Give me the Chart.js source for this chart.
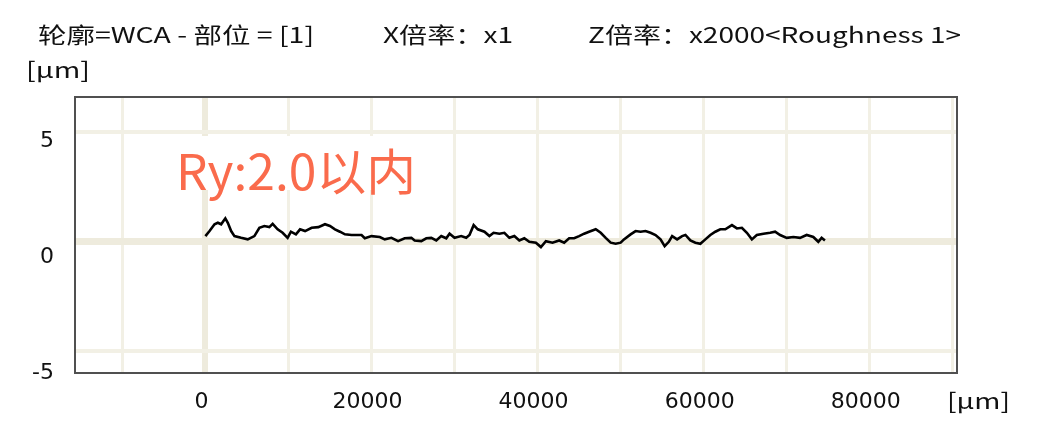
<!DOCTYPE html>
<html lang="zh">
<head>
<meta charset="utf-8">
<title>轮廓 WCA</title>
<script src="https://cdn.jsdelivr.net/npm/chart.js@4.4.0/dist/chart.umd.min.js"></script>
<style>
  html, body { margin: 0; padding: 0; background: #fff; }
  #caixa { position: relative; width: 1037px; height: 428px; }
</style>
</head>
<body>
<div id="caixa"><canvas id="grafico"></canvas></div>
<script>
// posição ao longo do perfil [µm]
const posicoes = [
  0, 500, 1100, 1500, 1900, 2400, 2700, 3100, 3500, 4300,
  5100, 5900, 6500, 7100, 7700, 8100, 8700, 9300, 9900, 10300,
  10900, 11400, 12000, 12800, 13600, 14400, 15000, 15600, 16200, 16800,
  17600, 18800, 19200, 20000, 21000, 21600, 22400, 23200, 24000, 24800,
  25200, 26000, 26600, 27200, 27800, 28400, 29000, 29400, 30000, 30800,
  31400, 31800, 32300, 32800, 33600, 34200, 34700, 35400, 36000, 36600,
  37200, 37800, 38400, 39000, 39800, 40400, 41000, 41800, 42600, 43200,
  43800, 44400, 45000, 45600, 46200, 47000, 47600, 48200, 48800, 49400,
  50000, 50400, 51200, 51800, 52400, 53000, 53600, 54200, 54800, 55300,
  55800, 56200, 56800, 57400, 57800, 58400, 59000, 59600, 60200, 60800,
  61400, 62000, 62600, 63400, 64000, 64600, 65200, 65800, 66400, 67200,
  68000, 68600, 69200, 70000, 70800, 71600, 72400, 73200, 73800, 74200,
  74600
];
// altura do perfil [µm]
const alturas = [
  0.25, 0.48, 0.79, 0.86, 0.79, 1.06, 0.86, 0.48, 0.25, 0.17,
  0.10, 0.25, 0.63, 0.71, 0.66, 0.81, 0.56, 0.40, 0.17, 0.45,
  0.33, 0.56, 0.48, 0.63, 0.66, 0.79, 0.71, 0.56, 0.45, 0.33,
  0.30, 0.30, 0.15, 0.25, 0.21, 0.10, 0.17, 0.02, 0.15, 0.17,
  0.05, 0.02, 0.15, 0.17, 0.05, 0.25, 0.15, 0.36, 0.17, 0.25,
  0.17, 0.30, 0.75, 0.56, 0.45, 0.25, 0.40, 0.36, 0.40, 0.17,
  0.25, 0.05, 0.15, -0.01, -0.05, -0.25, 0.02, -0.05, 0.05, -0.05,
  0.15, 0.15, 0.25, 0.36, 0.45, 0.56, 0.40, 0.17, -0.05, -0.10,
  -0.05, 0.10, 0.33, 0.48, 0.45, 0.48, 0.40, 0.30, 0.10, -0.21,
  -0.01, 0.25, 0.10, 0.25, 0.30, 0.05, -0.05, -0.10, 0.10, 0.30,
  0.45, 0.56, 0.56, 0.75, 0.60, 0.63, 0.40, 0.10, 0.30, 0.36,
  0.40, 0.45, 0.30, 0.17, 0.21, 0.17, 0.30, 0.21, -0.01, 0.17,
  0.05
];

// linhas da grade e rótulos dos eixos
const gradeX = [-10000, 0, 10000, 20000, 30000, 40000, 50000, 60000, 70000, 80000, 90000];
const rotulosX = [0, 20000, 40000, 60000, 80000];
const gradeY = [-5, 0, 5];

const corGrade = "rgb(242, 240, 229)";     // linhas finas
const corGradeZero = "rgb(238, 235, 221)"; // linhas do zero (mais grossas)

// desenha um texto esticado na horizontal até a largura pedida
function textoEsticado(ctx, texto, x, y, largura) {
  const w = ctx.measureText(texto).width;
  ctx.save();
  ctx.translate(x, y);
  ctx.scale(largura / w, 1);
  ctx.fillText(texto, 0, 0);
  ctx.restore();
}

// textos fixos: cabeçalho, unidades e a anotação Ry
const textos = {
  id: "textos",
  beforeDatasetsDraw(chart) {
    const ctx = chart.ctx;
    // caixa branca atrás da anotação (cobre a grade)
    ctx.save();
    ctx.fillStyle = "#fff";
    ctx.fillRect(126, 136, 322, 54);
    ctx.fillStyle = "#fa6b4c";
    ctx.font = "49px 'Noto Sans CJK SC'";
    ctx.textBaseline = "alphabetic";
    textoEsticado(ctx, "Ry:2.0以内", 176, 190, 240);
    ctx.restore();
  },
  afterDraw(chart) {
    const ctx = chart.ctx;
    const a = chart.chartArea;
    ctx.save();
    // moldura do gráfico
    ctx.strokeStyle = "#505050";
    ctx.lineWidth = 2;
    ctx.strokeRect(a.left, a.top, a.right - a.left, a.bottom - a.top);

    ctx.fillStyle = "#111";
    ctx.textBaseline = "alphabetic";
    ctx.font = "22px 'Noto Sans CJK SC'";
    textoEsticado(ctx, "轮廓=WCA - 部位 = [1]", 38, 43, 276);
    textoEsticado(ctx, "X倍率：x1", 383, 43, 130);
    textoEsticado(ctx, "Z倍率：x2000<Roughness 1>", 588, 43, 373);
    textoEsticado(ctx, "[μm]", 26, 78, 64);
    textoEsticado(ctx, "[μm]", 947, 409, 63);
    ctx.restore();
  }
};

const perfil = posicoes.map((x, i) => ({ x: x, y: alturas[i] }));

new Chart(document.getElementById("grafico"), {
  type: "line",
  data: {
    datasets: [{
      data: perfil,
      borderColor: "#000",
      borderWidth: 2.6,
      pointRadius: 0,
      tension: 0,
      fill: false
    }]
  },
  options: {
    responsive: true,
    maintainAspectRatio: false,
    animation: false,
    layout: { padding: { top: 97, right: 80, left: 0, bottom: 0 } },
    plugins: {
      legend: { display: false },
      title: { display: false },
      tooltip: { enabled: false }
    },
    scales: {
      x: {
        type: "linear",
        min: -15700,
        max: 90500,
        afterBuildTicks: s => { s.ticks = gradeX.map(v => ({ value: v })); },
        afterFit: s => { s.height = 55; },
        border: { display: false },
        grid: {
          drawTicks: false,
          color: c => c.tick && c.tick.value === 0 ? corGradeZero : corGrade,
          lineWidth: c => c.tick && c.tick.value === 0 ? 6 : 3
        },
        ticks: {
          autoSkip: false,
          maxRotation: 0,
          padding: 16,
          labelOffset: -4,
          color: "#111",
          font: { family: "'DejaVu Sans'", size: 22 },
          callback: v => rotulosX.includes(v) ? String(v) : ""
        }
      },
      y: {
        position: "left",
        weight: 0,
        min: -6,
        max: 6.6,
        afterBuildTicks: s => { s.ticks = gradeY.map(v => ({ value: v })); },
        afterFit: s => { s.width = 0; },
        border: { display: false },
        grid: {
          drawTicks: false,
          color: c => c.tick && c.tick.value === 0 ? corGradeZero : corGrade,
          lineWidth: c => c.tick && c.tick.value === 0 ? 7 : 4
        },
        ticks: { display: false }
      },
      // eixo só com os rótulos (na figura eles não batem com a grade)
      yRotulos: {
        position: "left",
        weight: 1,
        min: -5,
        max: 6.9,
        afterBuildTicks: s => { s.ticks = gradeY.map(v => ({ value: v })); },
        afterFit: s => { s.width = 75; },
        border: { display: false },
        grid: { display: false, drawTicks: false },
        ticks: {
          padding: 21,
          color: "#111",
          font: { family: "'DejaVu Sans'", size: 22 }
        }
      }
    }
  },
  plugins: [textos]
});
</script>
</body>
</html>
